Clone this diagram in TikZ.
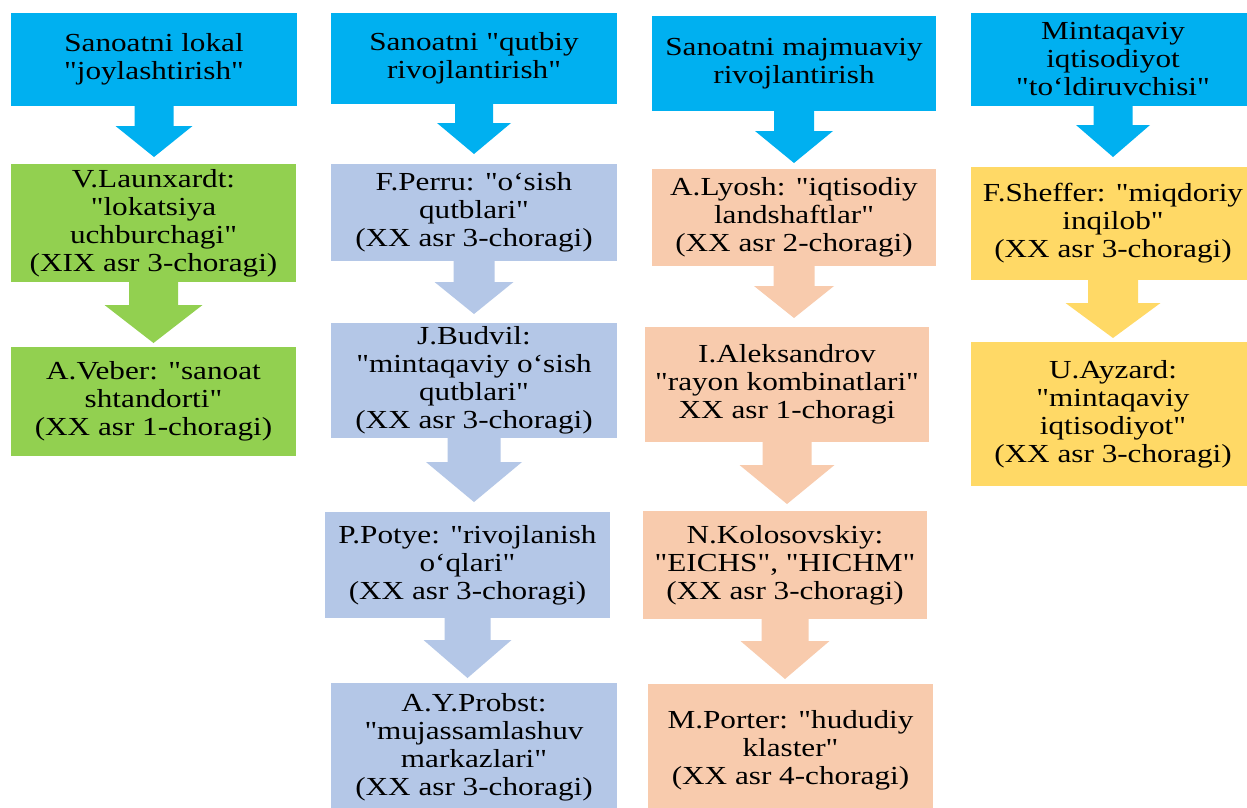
\documentclass[tikz,border=0pt]{standalone}
\usepackage{fontspec}
\newfontfamily\cellfont{Liberation Serif}[FakeStretch=1.2]
\usetikzlibrary{calc}
\definecolor{hdrblue}{HTML}{00B0F0}
\definecolor{grn}{HTML}{92D050}
\definecolor{lblue}{HTML}{B4C7E7}
\definecolor{peach}{HTML}{F8CBAD}
\definecolor{ylw}{HTML}{FFD966}
% box: name, x1, y1, x2, y2, colour, text
\newcommand\boxnode[7]{%
  \node[cell, fill=#6, minimum width={(#4-#2)*1pt}, minimum height={(#5-#3)*1pt}]
    (#1) at ({(#2+#4)/2},{(#3+#5)/2}) {#7};}
% block arrow: from, to, colour, shaft half width, head half width, head length, gap
\newcommand\blockarr[7]{%
  \fill[#3] let \p1=(#1.south), \p2=(#2.north) in
   (\x1-#4pt,\y1) -- (\x1+#4pt,\y1) -- (\x1+#4pt,\y2+#7pt+#6pt) -- (\x1+#5pt,\y2+#7pt+#6pt)
   -- (\x1,\y2+#7pt) -- (\x1-#5pt,\y2+#7pt+#6pt) -- (\x1-#4pt,\y2+#7pt+#6pt) -- cycle;}
\begin{document}
\begin{tikzpicture}[x=1pt,y=-1pt,
  cell/.style={inner sep=0pt, outer sep=0pt, draw=none, align=center,
    font=\cellfont\fontsize{26}{28}\selectfont, text=black}]
\useasboundingbox (0,0) rectangle (1247,808);
\fill[white] (0,0) rectangle (1247,808);
\clip (0,0) rectangle (1247,808);
% column 1
\boxnode{h1}{11}{13}{297}{106}{hdrblue}{Sanoatni lokal\\"joylashtirish"}
\boxnode{g1}{11}{164}{296}{282}{grn}{V.Launxardt:\\"lokatsiya\\uchburchagi"\\(XIX asr 3-choragi)}
\boxnode{g2}{11}{347}{296}{456}{grn}{A.Veber: "sanoat\\shtandorti"\\(XX asr 1-choragi)}
\blockarr{h1}{g1}{hdrblue}{19.5}{38.5}{31}{7}
\blockarr{g1}{g2}{grn}{24.5}{49}{38}{4}
% column 2
\boxnode{h2}{331}{13}{617}{104}{hdrblue}{Sanoatni "qutbiy\\rivojlantirish"}
\boxnode{b1}{331}{164}{617}{261}{lblue}{F.Perru: "o‘sish\\qutblari"\\(XX asr 3-choragi)}
\boxnode{b2}{331}{323}{617}{438}{lblue}{J.Budvil:\\"mintaqaviy o‘sish\\qutblari"\\(XX asr 3-choragi)}
\boxnode{b3}{325}{512}{610}{618}{lblue}{P.Potye: "rivojlanish\\o‘qlari"\\(XX asr 3-choragi)}
\boxnode{b4}{331}{683}{617}{812}{lblue}{A.Y.Probst:\\"mujassamlashuv\\markazlari"\\(XX asr 3-choragi)}
\blockarr{h2}{b1}{hdrblue}{19}{37}{31}{10}
\blockarr{b1}{b2}{lblue}{20.5}{39.5}{32}{9}
\blockarr{b2}{b3}{lblue}{26.5}{48}{40}{10}
\blockarr{b3}{b4}{lblue}{23}{44}{38}{5}
% column 3
\boxnode{h3}{652}{16}{936}{111}{hdrblue}{Sanoatni majmuaviy\\rivojlantirish}
\boxnode{p1}{652}{169}{936}{266}{peach}{A.Lyosh: "iqtisodiy\\landshaftlar"\\(XX asr 2-choragi)}
\boxnode{p2}{645}{327}{929}{442}{peach}{I.Aleksandrov\\"rayon kombinatlari"\\XX asr 1-choragi}
\boxnode{p3}{643}{511}{927}{619}{peach}{N.Kolosovskiy:\\"EICHS", "HICHM"\\(XX asr 3-choragi)}
\boxnode{p4}{648}{684}{933}{816}{peach}{M.Porter: "hududiy\\klaster"\\(XX asr 4-choragi)}
\blockarr{h3}{p1}{hdrblue}{20}{39}{32}{6}
\blockarr{p1}{p2}{peach}{20.5}{40}{32}{9}
\blockarr{p2}{p3}{peach}{24.5}{47.5}{39}{7}
\blockarr{p3}{p4}{peach}{23.5}{44.5}{38}{5}
% column 4
\boxnode{h4}{971}{13}{1255}{106}{hdrblue}{Mintaqaviy\\iqtisodiyot\\"to‘ldiruvchisi"}
\boxnode{y1}{971}{167}{1255}{280}{ylw}{F.Sheffer: "miqdoriy\\inqilob"\\(XX asr 3-choragi)}
\boxnode{y2}{971}{342}{1255}{486}{ylw}{U.Ayzard:\\"mintaqaviy\\iqtisodiyot"\\(XX asr 3-choragi)}
\blockarr{h4}{y1}{hdrblue}{19.5}{37}{32}{10}
\blockarr{y1}{y2}{ylw}{25}{47.5}{35}{4}
\end{tikzpicture}
\end{document}
